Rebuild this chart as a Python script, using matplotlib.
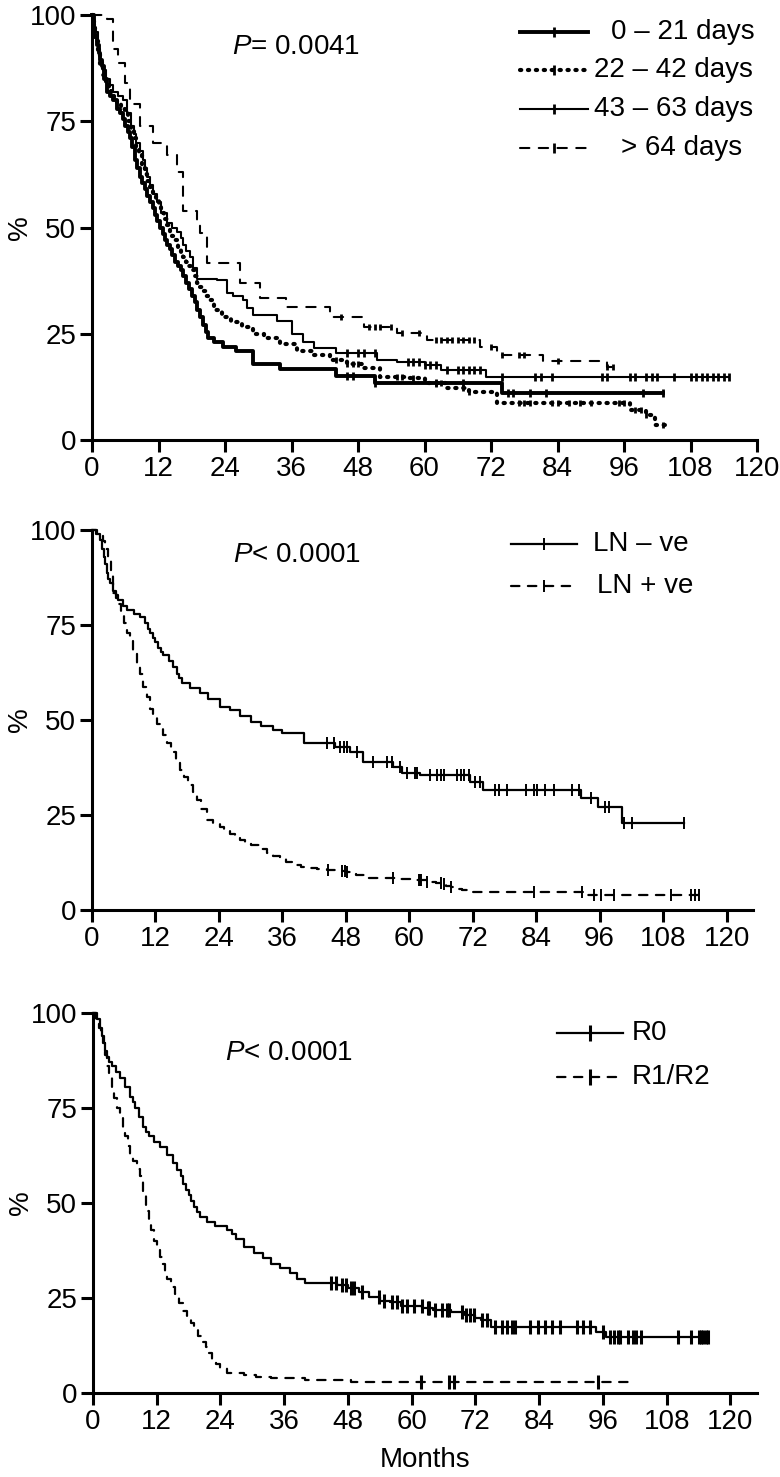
import numpy as np
import matplotlib
matplotlib.use("Agg")
import matplotlib.pyplot as plt

plt.rcParams['font.family'] = ['Liberation Sans', 'DejaVu Sans']
plt.rcParams['mathtext.fontset'] = 'custom'
plt.rcParams['mathtext.it'] = 'Liberation Sans:italic'
plt.rcParams['mathtext.rm'] = 'Liberation Sans'
plt.rcParams['font.size'] = 20

# ---- panel 1: interval to treatment ----
g1_t = [0, 0.3, 0.6, 0.9, 1.2, 1.5, 1.8, 2.2, 2.7, 3.2, 3.8, 4.5, 5, 5.5, 6, 6.5, 6.9, 7.3, 7.8,
        8.2, 8.7, 9.1, 9.5, 10, 10.5, 11, 11.4, 11.8, 12.3, 12.8, 13.2, 13.6, 14, 14.5, 15, 15.5,
        16, 16.5, 17, 17.5, 18, 18.5, 19, 19.5, 20, 20.5, 21, 22, 23.6, 26, 29, 34, 44, 51, 74]
g1_s = [100, 97, 95, 93, 91, 89.5, 88, 85, 82, 81, 80, 78, 77, 75.5, 74, 72.5, 71, 69, 66,
        64, 62, 60.5, 59, 57.5, 56, 54.5, 53, 51.5, 50, 48.5, 47, 46, 45, 43.5, 42, 41,
        40, 38.5, 37, 35.5, 34, 32.5, 30.6, 29, 27, 25.5, 24, 23, 22, 21, 18, 16.7, 15, 13.4, 11]
g1_end = 103
g1_cens = [46, 47, 51, 62, 67, 75, 76, 79, 82, 99.5, 103]

g2_t = [0, 0.3, 0.6, 1, 1.5, 2, 2.5, 3, 3.5, 4, 4.5, 5.2, 6, 6.5, 7, 7.5, 8, 8.5, 9, 9.5, 10,
        10.5, 11, 11.5, 12, 12.5, 13, 13.5, 14, 14.5, 15, 15.5, 16, 16.5, 17, 17.5, 18, 18.5, 19,
        19.5, 20, 20.5, 21, 22, 23.5, 25, 27, 29, 31, 34, 37, 40, 43, 46, 49, 52, 57, 60, 64, 68,
        73, 97, 100, 101.5]
g2_s = [100, 97, 94, 91, 88, 86, 84, 82.5, 81, 80, 79, 78, 77, 75, 73, 71, 69, 67, 64, 62.5, 61,
        59.5, 58, 56.5, 55, 53.5, 52, 50.5, 49, 48, 47, 45.5, 44, 43, 42, 41, 40, 38.5, 37,
        36, 35, 34, 33, 30.6, 29, 27.8, 26.5, 25, 24, 22.5, 21, 20, 18.8, 18, 17, 14.8, 14.6, 13.4,
        12.2, 11.3, 8.7, 7, 6, 3.5]
g2_end = 103.5
g2_cens = [44, 46, 47, 48, 55, 56, 58, 62, 63, 67, 68, 77, 78, 79, 83, 84, 86, 88, 90, 95, 96, 98,
           99, 100, 103]

g3_t = [0, 0.3, 0.6, 1, 1.5, 2, 2.5, 3.2, 3.8, 4.6, 5.6, 6.3, 7, 7.5, 8, 8.7, 9.2, 9.6, 10, 10.5,
        11, 11.7, 12.5, 13.5, 14.5, 15.3, 16, 16.5, 17, 17.7, 18.3, 19, 22.5, 24.3, 25.5, 27.3, 28,
        29, 33.3, 36, 38, 40, 44, 51.4, 55, 60, 63, 71]
g3_s = [100, 98, 96, 92, 89, 87, 85, 83.5, 82, 81, 80, 77, 74, 72, 70, 68, 66, 64, 62, 60,
        58, 56, 53.5, 51, 50, 49, 47.5, 46, 44.5, 43, 40.5, 38, 37.6, 34.6, 34, 33, 31,
        29.4, 28, 25, 23, 21.6, 20.4, 18.8, 18.4, 17.6, 16.5, 14.8]
g3_end = 115
g3_cens = [46, 48, 49, 51, 57, 58, 59, 60, 61, 62, 64, 66, 67, 68, 69, 70, 74, 80, 81, 83, 92, 93,
           97, 98, 100, 101, 102, 105, 108, 109, 110, 111, 112, 113, 114, 115]

g4_t = [0, 2.7, 3.8, 4.7, 6, 6.9, 8.7, 11, 13.5, 15.3, 16.4, 19, 19.5, 20.7, 26.7, 30.3, 35, 43,
        49, 55, 60.5, 70, 73, 81.4, 93]
g4_s = [100, 99, 92, 88.7, 84, 79, 74, 70, 67, 63, 54, 51, 48.7, 41.6, 37, 33.4, 31.3, 29,
        26.6, 25.2, 23.5, 22, 20, 18.6, 17.2]
g4_end = 95.3
g4_cens = [45, 50, 51, 52, 54, 56, 59, 62, 63, 64, 65, 66, 67, 68, 69, 72, 74, 77, 78, 84, 93, 94]

p1_labels = ['0 – 21 days', '22 – 42 days', '43 – 63 days', '> 64 days']

# ---- panel 2: lymph node status ----
lnneg_t = [0, 0.7, 1.5, 1.9, 2.2, 2.5, 2.8, 3.1, 3.4, 4, 4.5, 5, 5.8, 6.6, 8, 9.1, 10, 10.5, 11,
           11.5, 12, 12.5, 13, 13.5, 14.5, 15.3, 16, 16.5, 17, 18.5, 20.4, 22, 24.2, 26, 28, 30, 32,
           34.3, 36, 40, 46, 48.8, 51.3, 57, 58.7, 62, 71.5, 74, 92.4, 95.6, 100.3]
lnneg_s = [100, 99, 97.4, 95, 93, 91, 88.7, 87, 86, 84, 83, 81.5, 80, 79, 78, 77, 75.5, 74, 73,
           71.5, 70.5, 69, 68, 67, 65.5, 64, 62, 61, 59.7, 58.5, 57, 55.5, 53.4, 52.5, 51, 49.5, 48.5,
           47.4, 46.6, 44, 43, 41.6, 39, 37.6, 36, 35.5, 33.7, 31.6, 29.5, 27, 22.9]
lnneg_end = 112
lnneg_cens = [44.4, 45.7, 46.9, 47.6, 48.2, 50.1, 53.2, 55.8, 56.7, 58.3, 59.6, 61.1, 61.5, 64, 65.2,
              65.9, 66.5, 69, 69.7, 70.3, 71.2, 72.5, 73.4, 76.3, 76.9, 78.5, 82, 83.5, 84.2, 85.7,
              87.3, 90.8, 92, 94.3, 97.1, 97.7, 100.6, 102.2, 112]

lnpos_t = [0, 1, 2, 2.5, 3, 3.5, 4, 4.5, 5, 5.5, 6, 6.6, 7.2, 7.8, 8.5, 9.1, 9.7, 10.3, 11, 11.6,
           12.2, 12.9, 13.5, 14.2, 15, 15.8, 16.7, 17.4, 18.2, 19, 19.8, 20.7, 21.7, 22.8, 24.2, 25,
           26, 27, 28, 29, 30, 31.5, 33, 34.2, 35.5, 36.7, 38, 39.5, 41, 42.5, 44.5, 46, 48.2, 50,
           52, 55, 58.3, 61, 63.4, 65, 66, 67, 67.8, 69, 70, 71, 72, 93]
lnpos_s = [100, 99, 97, 95, 92, 88, 83.4, 82, 80.5, 78, 75.5, 73, 71, 68, 65, 62, 58.7, 56, 53, 50.5,
           49, 48, 46, 44, 41.5, 39, 36.8, 35, 33, 31, 29, 26.5, 23.7, 22.5, 21.8, 21,
           20, 19.2, 18.4, 17.7, 17, 16, 15, 14.2, 13.3, 12.5, 11.8, 11.4, 11, 10.8, 10.5, 10.2, 10,
           9.2, 8.4, 8.3, 8.2, 7.8, 7.4, 7, 6.8, 6.4, 6, 5.6, 5.3, 5, 4.7, 3.9]
lnpos_end = 115
lnpos_cens = [44.7, 47.3, 47.9, 48.2, 57, 61.8, 62, 62.2, 63.4, 65.9, 66.5, 67.8, 83.5, 92.7, 94.9,
              96.2, 98.7, 109.4, 113.2, 114.1, 114.8]

p2_labels = ['LN – ve', 'LN + ve']

# ---- panel 3: resection margin ----
r0_t = [0, 0.7, 1.3, 1.7, 2, 2.3, 2.6, 3, 3.5, 4.3, 5.1, 6, 7, 7.5, 8, 8.7, 9.5, 10, 10.5, 11.5,
        12.7, 14, 15, 15.9, 16.5, 17, 17.5, 18, 18.5, 19, 19.6, 20.2, 21.5, 23, 25.3, 26.2, 27, 28.5,
        30.3, 32, 33.5, 35.2, 37, 38.5, 40, 46, 48, 50, 52, 54, 56, 58, 62, 64, 67.4, 70, 72, 73,
        74.9, 94.7, 96.6]
r0_s = [100, 98.5, 96, 94, 92, 90, 88.4, 87, 86, 84.5, 83, 80.5, 78, 76.5, 75, 72.5, 70, 68.7,
        67.5, 66, 64.7, 62.5, 60.5, 58.7, 57, 55, 53.5, 52, 50.5, 49, 47.6, 46.3, 45, 44, 42.9,
        41.7, 40.5, 38.5, 36.8, 35.5, 34, 33, 31.5, 30, 29, 28.5, 27.5, 26.5, 25.3, 24.3, 24, 23,
        22.3, 21.8, 21.3, 20.5, 19.8, 19.2, 17.4, 16, 14.7]
r0_end = 115.8
r0_cens = [44.9, 45.8, 46.8, 47.7, 48.6, 49.1, 50.7, 53.9, 54.8, 56.2, 57.2, 58.1, 59.1, 60.5, 61.9,
           63, 63.3, 64.3, 65.7, 66.6, 67.1, 69.5, 70.3, 70.9, 71.8, 73.3, 74.2, 75.6, 77, 78, 78.9,
           79.4, 82.2, 83.7, 85.1, 86.5, 87.9, 91.2, 92.2, 93.6, 96, 97.4, 98, 98.8, 99.3, 100.7,
           101.7, 102.2, 103.1, 110.2, 112.5, 114, 114.5, 114.9, 115.4, 115.8]

r12_t = [0, 0.6, 1.2, 1.6, 1.9, 2.3, 2.6, 3, 3.5, 4, 4.5, 5.1, 5.7, 6.1, 6.5, 7, 7.6, 8.2, 8.9, 9.4,
         10, 10.5, 11, 11.5, 12.1, 12.6, 13, 13.5, 14, 14.7, 15.5, 16.2, 17, 17.7, 18.4, 19.1, 19.8,
         20.5, 21.2, 21.8, 22.5, 23.2, 24, 25.3, 28.5, 30.6, 33.5, 40, 48.6]
r12_s = [100, 98, 96, 94, 92, 89, 86, 83, 80, 77.5, 75, 72.5, 70, 67.5, 65, 63, 61, 59, 57, 52.5,
         48, 45.5, 43, 40, 37.6, 35.8, 34, 32, 30, 28, 26, 23.7, 21.5, 20, 18.4, 16.7, 15,
         13.5, 12, 10.5, 9, 7.7, 6.5, 5.2, 4.8, 4.3, 3.9, 3.4, 3]
r12_end = 101
r12_cens = [61.7, 67.1, 68, 95]

p3_labels = ['R0', 'R1/R2']

xticks = list(range(0, 121, 12))
yticks = [0, 25, 50, 75, 100]


def km(ax, t, s, end, cens, ls, lw, ms, mew):
    tt = list(t) + [end]
    ss = list(s) + [s[-1]]
    ax.step(tt, ss, where='post', color='black', lw=lw, ls=ls, clip_on=False,
            dash_capstyle='round' if ls != '-' else 'butt')
    idx = np.searchsorted(t, cens, side='right') - 1
    ax.plot(cens, np.array(s)[idx], ls='none', marker='|', color='black', ms=ms, mew=mew,
            clip_on=False)


def legend_rows(ax, styles, labels, ys, x0, x1, xt, ms, mew):
    for (ls, lw), lab, y, x_txt in zip(styles, labels, ys, xt):
        ax.plot([x0, x1], [y, y], transform=ax.transAxes, color='black', ls=ls, lw=lw,
                clip_on=False, dash_capstyle='round' if ls != '-' else 'butt')
        ax.plot([(x0 + x1) / 2], [y], transform=ax.transAxes, marker='|', color='black',
                ms=ms, mew=mew, clip_on=False)
        ax.text(x_txt, y, lab, transform=ax.transAxes, ha='left', va='center')


def style_axes(ax, xmax, lx):
    ax.set_xlim(0, xmax)
    ax.set_ylim(0, 100)
    ax.set_xticks(xticks)
    ax.set_yticks(yticks)
    for sp in ['top', 'right']:
        ax.spines[sp].set_visible(False)
    for sp in ['left', 'bottom']:
        ax.spines[sp].set_linewidth(2.2)
    ax.tick_params(width=2.2, length=8.5, pad=3, labelsize=20)
    ax.set_ylabel('%', fontsize=20, va='center')
    ax.yaxis.set_label_coords(lx, 0.5)


fig = plt.figure(figsize=(7.8, 14.77), dpi=100)
ax1 = fig.add_axes([0.118, 0.7021, 0.8526, 0.2877])
ax2 = fig.add_axes([0.118, 0.3839, 0.8474, 0.2573])
ax3 = fig.add_axes([0.1192, 0.0569, 0.8513, 0.2573])

dash4 = (0, (4.5, 4.5))
dots = (0, (0.3, 1.6))
dash2 = (0, (3.8, 3.8))

# panel 1
km(ax1, g1_t, g1_s, g1_end, g1_cens, '-', 2.8, 6, 2.0)
km(ax1, g2_t, g2_s, g2_end, g2_cens, dots, 3.0, 5, 2.0)
km(ax1, g3_t, g3_s, g3_end, g3_cens, '-', 1.5, 6, 2.0)
km(ax1, g4_t, g4_s, g4_end, g4_cens, dash4, 1.5, 5, 2.0)
style_axes(ax1, 120, -0.108)
ax1.text(0.2105, 0.925, r'$P$= 0.0041', transform=ax1.transAxes, ha='left', va='center')
legend_rows(ax1, [('-', 2.8), (dots, 3.0), ('-', 1.5), (dash4, 1.5)], p1_labels,
            [0.96, 0.871, 0.779, 0.687], 0.644, 0.746,
            [0.780, 0.755, 0.755, 0.795], 7, 2.0)

# panel 2
km(ax2, lnneg_t, lnneg_s, lnneg_end, lnneg_cens, '-', 1.6, 8, 1.4)
km(ax2, lnpos_t, lnpos_s, lnpos_end, lnpos_cens, dash2, 1.6, 8, 1.4)
style_axes(ax2, 125, -0.109)
ax2.text(0.213, 0.934, r'$P$< 0.0001', transform=ax2.transAxes, ha='left', va='center')
legend_rows(ax2, [('-', 1.6), (dash2, 1.6)], p2_labels, [0.963, 0.853], 0.634, 0.734,
            [0.758, 0.764], 8, 1.4)

# panel 3
km(ax3, r0_t, r0_s, r0_end, r0_cens, '-', 1.6, 10, 2.2)
km(ax3, r12_t, r12_s, r12_end, r12_cens, dash2, 1.6, 10, 2.2)
style_axes(ax3, 125, -0.109)
ax3.text(0.199, 0.895, r'$P$< 0.0001', transform=ax3.transAxes, ha='left', va='center')
legend_rows(ax3, [('-', 1.6), (dash2, 1.6)], p3_labels, [0.947, 0.832], 0.699, 0.798,
            [0.812, 0.812], 12, 2.2)
ax3.text(0.5, -0.176, 'Months', transform=ax3.transAxes, ha='center', va='center', fontsize=20)

fig.savefig('out.png', dpi=100)
